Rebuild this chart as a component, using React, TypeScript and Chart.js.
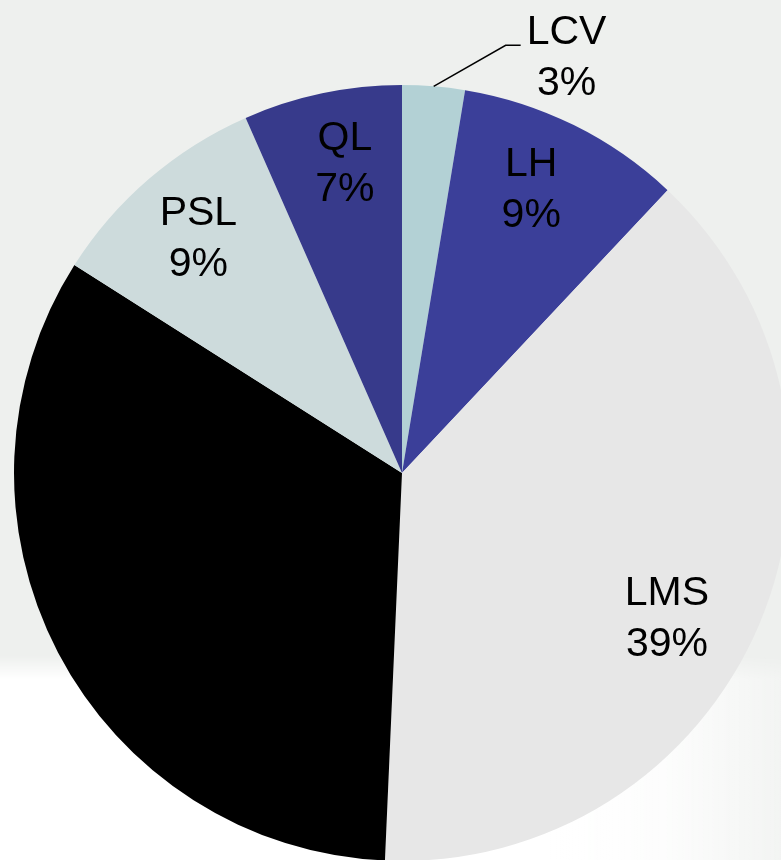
import React, { useEffect, useRef } from "react";
import { Chart, registerables } from "chart.js";

Chart.register(...registerables);

const categories = ["LCV", "LH", "LMS", "", "PSL", "QL"];
const shares = [2.6, 9.4, 38.7, 33.3, 9.4, 6.6];
const percentLabels = ["3%", "9%", "39%", "", "9%", "7%"];
const sliceColors = ["#b3d1d5", "#3b3f99", "#e7e7e7", "#000000", "#cddbdc", "#373a8b"];

// style: label placement tweaks (degrees, radius fraction); null = callout outside
const labelPlacement: ({ da: number; rf: number } | null)[] = [
  null,
  { da: -2, rf: 0.81 },
  { da: 5.5, rf: 0.776 },
  { da: 0, rf: 0.8 },
  { da: 0, rf: 0.805 },
  { da: 1.5, rf: 0.817 },
];

const FONT = "41px 'Liberation Sans', Arial, sans-serif";
const LINE_H = 51;
const CAP = 29.4;

const labelPlugin = {
  id: "sliceLabels",
  afterDatasetsDraw(chart: any) {
    const ctx = chart.ctx;
    const meta = chart.getDatasetMeta(0);
    ctx.save();
    ctx.font = FONT;
    ctx.fillStyle = "#000";
    ctx.textAlign = "center";
    ctx.textBaseline = "alphabetic";
    meta.data.forEach((arc: any, i: number) => {
      const name = categories[i];
      if (!name) return;
      const { x, y, startAngle, endAngle, outerRadius } = arc.getProps(
        ["x", "y", "startAngle", "endAngle", "outerRadius"],
        true
      );
      const mid = (startAngle + endAngle) / 2;
      const p = labelPlacement[i];
      if (p) {
        const a = mid + (p.da * Math.PI) / 180;
        const cx = x + Math.cos(a) * outerRadius * p.rf;
        const cy = y + Math.sin(a) * outerRadius * p.rf;
        const b1 = cy - LINE_H / 2 + CAP / 2;
        ctx.fillText(name, cx, b1);
        ctx.fillText(percentLabels[i], cx, b1 + LINE_H);
      } else {
        const ex = x + Math.cos(mid) * outerRadius;
        const ey = y + Math.sin(mid) * outerRadius;
        const kx = ex + 72;
        const ky = ey - 41;
        const hx = kx + 15;
        ctx.strokeStyle = "#000";
        ctx.lineWidth = 1.5;
        ctx.beginPath();
        ctx.moveTo(ex, ey);
        ctx.lineTo(kx, ky);
        ctx.lineTo(hx, ky);
        ctx.stroke();
        ctx.textAlign = "left";
        ctx.fillText(name, hx + 6, ky - 1);
        ctx.textAlign = "center";
        const w = ctx.measureText(name).width;
        ctx.fillText(percentLabels[i], hx + 6 + w / 2, ky - 1 + LINE_H);
      }
    });
    ctx.restore();
  },
};

export default function App() {
  const ref = useRef<HTMLCanvasElement | null>(null);
  useEffect(() => {
    if (!ref.current) return;
    const chart = new Chart(ref.current, {
      type: "pie",
      data: {
        labels: categories,
        datasets: [
          {
            data: shares,
            backgroundColor: sliceColors,
            borderWidth: 0,
          },
        ],
      },
      options: {
        responsive: false,
        animation: false,
        devicePixelRatio: 1,
        layout: { padding: { left: 14, top: 85, right: 10, bottom: 9 } },
        plugins: {
          legend: { display: false },
          tooltip: { enabled: false },
          title: { display: false },
        },
      },
      plugins: [labelPlugin],
    });
    return () => chart.destroy();
  }, []);
  return (
    <div
      style={{
        position: "fixed",
        left: 0,
        top: 0,
        width: 781,
        height: 860,
        overflow: "hidden",
        background: "#eef0ee",
      }}
    >
      <div
        style={{
          position: "absolute",
          left: 0,
          top: 655,
          width: 781,
          height: 205,
          background:
            "linear-gradient(to right, #ffffff 0%, #ffffff 70%, rgba(255,255,255,0.85) 85%, rgba(255,255,255,0.3) 100%)",
          maskImage: "linear-gradient(to bottom, transparent 0px, #000 25px)",
          WebkitMaskImage: "linear-gradient(to bottom, transparent 0px, #000 25px)",
        }}
      />
      <canvas
        ref={ref}
        width={800}
        height={870}
        style={{ position: "absolute", left: 0, top: 0, width: 800, height: 870 }}
      />
    </div>
  );
}
